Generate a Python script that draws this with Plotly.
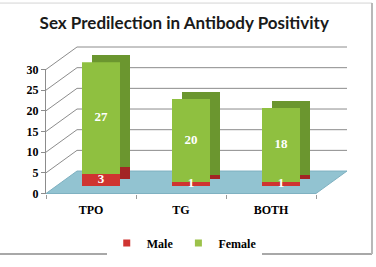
import plotly.graph_objects as go

categories = ["TPO", "TG", "BOTH"]
male = [3, 1, 1]
female = [27, 20, 18]
y_ticks = [0, 5, 10, 15, 20, 25, 30]

# pixel geometry of the pseudo-3D frame
L, T, R, B = 46, 47, 347, 197
W, H = R - L, B - T
FX0, FX1, FY0, FY1 = 46, 316, 197, 70
DX, DY = 31, 23
YMAX = 30

def px(x):
    return (x - L) / W

def py(y):
    return (B - y) / H

def plane(f):
    return ([px(FX0 + DX * f), px(FX1 + DX * f)], [py(FY0 - DY * f), py(FY1 - DY * f)])

front_dom = plane(0)
bar_back_dom = plane(0.64)
bar_front_dom = plane(0.32)

serif = "Liberation Serif"
fig = go.Figure()

# invisible trace to anchor the front axes
fig.add_trace(go.Scatter(x=categories, y=[0, 0, 0], mode="markers", marker=dict(opacity=0),
                         showlegend=False, hoverinfo="skip", xaxis="x", yaxis="y"))

# back faces (depth) of bars
fig.add_trace(go.Bar(x=categories, y=male, marker=dict(color="#a32525", line=dict(width=0)), width=0.42,
                     showlegend=False, xaxis="x2", yaxis="y2"))
fig.add_trace(go.Bar(x=categories, y=female, marker=dict(color="#6b962f", line=dict(width=0)), width=0.42,
                     showlegend=False, xaxis="x2", yaxis="y2"))
# front faces
fig.add_trace(go.Bar(x=categories, y=male, marker=dict(color="#cf3431", line=dict(width=0)), width=0.42,
                     showlegend=False, xaxis="x3", yaxis="y3"))
fig.add_trace(go.Bar(x=categories, y=female, marker=dict(color="#8fc040", line=dict(width=0)), width=0.42,
                     showlegend=False, xaxis="x3", yaxis="y3"))

# value labels
fig.add_trace(go.Scatter(x=categories, y=[m / 2 for m in male], mode="text", text=[str(m) for m in male],
                         textfont=dict(family=serif, size=13, color="white", weight="bold"), cliponaxis=False,
                         showlegend=False, hoverinfo="skip", xaxis="x3", yaxis="y3"))
fig.add_trace(go.Scatter(x=categories, y=[m + f / 2 for m, f in zip(male, female)], mode="text",
                         text=[str(f) for f in female], cliponaxis=False,
                         textfont=dict(family=serif, size=13, color="white", weight="bold"),
                         showlegend=False, hoverinfo="skip", xaxis="x3", yaxis="y3"))

# legend entries
fig.add_trace(go.Scatter(x=[None], y=[None], mode="markers", name="Male",
                         marker=dict(symbol="square", size=7, color="#cf3431"), xaxis="x3", yaxis="y3"))
fig.add_trace(go.Scatter(x=[None], y=[None], mode="markers", name="Female",
                         marker=dict(symbol="square", size=7, color="#9cc24a"), xaxis="x3", yaxis="y3"))

shapes = []
# floor
fx = [px(FX0), px(FX1), px(FX1 + DX), px(FX0 + DX)]
fy = [py(FY0), py(FY0), py(FY0 - DY), py(FY0 - DY)]
shapes.append(dict(type="path", xref="paper", yref="paper", layer="below",
                   path="M{},{} L{},{} L{},{} L{},{} Z".format(fx[0], fy[0], fx[1], fy[1], fx[2], fy[2], fx[3], fy[3]),
                   fillcolor="#92c3d1", line=dict(color="#7fb1c1", width=1)))
# gridlines on side and back walls
for v in y_ticks[1:]:
    yv = FY0 - v * (FY0 - FY1) / YMAX
    shapes.append(dict(type="line", xref="paper", yref="paper", layer="below",
                       x0=px(FX0), y0=py(yv), x1=px(FX0 + DX), y1=py(yv - DY),
                       line=dict(color="#8c8c8c", width=1)))
    shapes.append(dict(type="line", xref="paper", yref="paper", layer="below",
                       x0=px(FX0 + DX), y0=py(yv - DY), x1=px(FX1 + DX), y1=py(yv - DY),
                       line=dict(color="#8c8c8c", width=1)))
# outer chart border
shapes.append(dict(type="rect", xref="paper", yref="paper", layer="below",
                   x0=px(-2), y0=py(2), x1=px(372), y1=py(259),
                   line=dict(color="#d4d4d4", width=1)))
shapes.append(dict(type="line", xref="paper", yref="paper", x0=px(-2), y0=py(259), x1=px(372), y1=py(259),
                   line=dict(color="#a8a8a8", width=2)))
shapes.append(dict(type="line", xref="paper", yref="paper", x0=px(372), y0=py(2), x1=px(372), y1=py(259),
                   line=dict(color="#b8b8b8", width=2)))

hidden_x = dict(type="category", categoryorder="array", categoryarray=categories, range=[-0.5, 2.5],
                visible=False, fixedrange=True)
hidden_y = dict(range=[0, YMAX], visible=False, fixedrange=True)

fig.update_layout(
    width=376, height=267,
    margin=dict(l=L, r=376 - R, t=T, b=267 - B),
    paper_bgcolor="white", plot_bgcolor="rgba(0,0,0,0)",
    barmode="stack",
    title=dict(text="<b>Sex Predilection in Antibody Positivity</b>", x=0.49, xref="container", xanchor="center",
               y=1 - 23 / 267, yref="container", yanchor="middle",
               font=dict(family="Lato", size=17, color="#1a1a1a")),
    xaxis=dict(domain=front_dom[0], type="category", categoryorder="array", categoryarray=categories,
               range=[-0.5, 2.5], tickson="boundaries", ticks="outside", ticklen=4, tickcolor="#9a9a9a",
               showline=False, showgrid=False, zeroline=False, fixedrange=True, ticklabelstandoff=7,
               tickfont=dict(family=serif, size=12, color="black", weight="bold"), anchor="y"),
    yaxis=dict(domain=front_dom[1], range=[0, YMAX], tickvals=y_ticks, ticks="outside", ticklen=4,
               tickcolor="#8c8c8c", showline=True, linecolor="#8c8c8c", linewidth=1, showgrid=False,
               zeroline=False, fixedrange=True,
               tickfont=dict(family=serif, size=12, color="black", weight="bold"), anchor="x"),
    xaxis2=dict(hidden_x, domain=bar_back_dom[0], anchor="y2"),
    yaxis2=dict(hidden_y, domain=bar_back_dom[1], anchor="x2"),
    xaxis3=dict(hidden_x, domain=bar_front_dom[0], anchor="y3"),
    yaxis3=dict(hidden_y, domain=bar_front_dom[1], anchor="x3"),
    legend=dict(orientation="h", x=0.49, xref="container", xanchor="center",
                y=1 - 243 / 267, yref="container", yanchor="middle", traceorder="normal",
                font=dict(family=serif, size=12, color="black", weight="bold"),
                itemwidth=30, tracegroupgap=0),
    shapes=shapes,
    showlegend=True,
)

fig.write_html("out.html")
